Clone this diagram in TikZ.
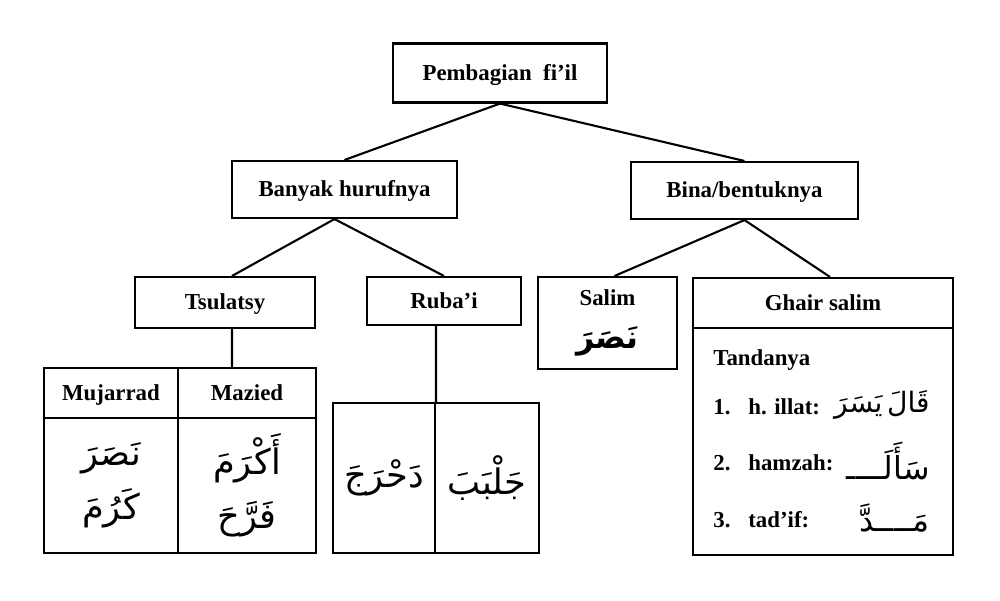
\documentclass[tikz,border=0pt]{standalone}
\usepackage{fontspec}
\setmainfont{Liberation Serif}
\newfontfamily\arabicfont[Script=Arabic]{DejaVu Sans}
\TeXXeTstate=1
\newcommand{\artext}[1]{\beginR #1\endR}
\tikzset{
  {box/.style} ={rectangle, draw, line width=1.2pt, inner sep=0,
                 align=center, font=\bfseries\fontsize{13}{15}\selectfont},
  {head/.style} ={box, text height=11.5pt, text depth=3pt},
  {edge/.style} ={line width=1.2pt, draw},
  {arabcell/.style} ={box, font=\arabicfont\fontsize{20}{31}\selectfont},
  {item/.style} ={anchor=west, inner sep=0,
                  font=\bfseries\fontsize{13}{15}\selectfont},
  {arabitem/.style} ={anchor=east, inner sep=0,
                      font=\arabicfont\fontsize{18}{22}\selectfont},
}

\begin{document}
\begin{tikzpicture}[x=0.02cm,y=-0.02cm]
\path[fill=white,use as bounding box] (0,0) rectangle (1000,600);
% upper levels
\node[head, minimum width=4.28cm, minimum height=1.18cm] (fil) at (500,73) {Pembagian\ \ fi’il};
\node[head, minimum width=4.5cm, minimum height=1.14cm] (banyak) at (344.5,189.5) {Banyak hurufnya};
\node[head, minimum width=4.54cm, minimum height=1.14cm] (bina) at (744.5,190.5) {Bina/bentuknya};
\node[head, minimum width=3.6cm, minimum height=1.02cm] (tsulatsy) at (225,302.5) {Tsulatsy};
\node[head, minimum width=3.08cm, minimum height=0.96cm] (rubai) at (444,301) {Ruba’i};
\node[box, minimum width=2.78cm, minimum height=1.84cm] (salim) at (607.5,323)
  {Salim\\[9pt]{\arabicfont\fontsize{18}{22}\selectfont\artext{نَصَرَ}}};
% ghair salim
\node[head, minimum width=5.2cm, minimum height=1.0cm] (ghairhead) at (823,303) {Ghair salim};
\node[box, minimum width=5.2cm, minimum height=4.54cm] (ghairbody) at (823,441.5) {};
\node[item] (tanda) at (713,360) {Tandanya};
\node[item] (n1) at (713,407) {1.};
\node[item] (illat) at (748,407) {h. illat:};
\node[arabitem, font=\arabicfont\fontsize{16}{20}\selectfont] (a1) at (930,405) {\artext{قَالَ\,يَسَرَ}};
\node[item] (n2) at (713,463) {2.};
\node[item] (hamzah) at (748,463) {hamzah:};
\node[arabitem] (a2) at (930,461) {\artext{سَأَلَــــ}};
\node[item] (n3) at (713,520) {3.};
\node[item] (tadif) at (748,520) {tad’if:};
\node[arabitem] (a3) at (930,518) {\artext{مَــــدَّ}};
% tsulatsy table
\node[head, minimum width=2.68cm, minimum height=1.0cm] (mujarrad) at (111,393) {Mujarrad};
\node[head, minimum width=2.76cm, minimum height=1.0cm] (mazied) at (247,393) {Mazied};
\node[arabcell, minimum width=2.68cm, minimum height=2.7cm] (mujbody) at (111,485.5)
  {\artext{نَصَرَ}\\\artext{كَرُمَ}};
\node[arabcell, minimum width=2.76cm, minimum height=2.7cm] (mazbody) at (247,485.5)
  {\artext{أَكْرَمَ}\\\artext{فَرَّحَ}};
% ruba'i table
\node[arabcell, minimum width=2.04cm, minimum height=3.0cm] (rleft) at (384,478) {\artext{دَحْرَجَ}};
\node[arabcell, minimum width=2.08cm, minimum height=3.0cm] (rright) at (487,478) {\artext{جَلْبَبَ}};
% connectors
\path[edge] (fil.south) -- (banyak.north)
            (fil.south) -- (bina.north)
            ([xshift=-0.2cm]banyak.south) -- ([xshift=0.14cm]tsulatsy.north)
            ([xshift=-0.2cm]banyak.south) -- (rubai.north)
            (bina.south) -- ([xshift=0.14cm]salim.north)
            (bina.south) -- ([xshift=0.14cm]ghairhead.north)
            ([xshift=0.14cm]tsulatsy.south) -- ([xshift=0.14cm]tsulatsy.south |- mujarrad.north)
            (rleft.north east |- rubai.south) -- (rleft.north east);
\end{tikzpicture}
\end{document}
